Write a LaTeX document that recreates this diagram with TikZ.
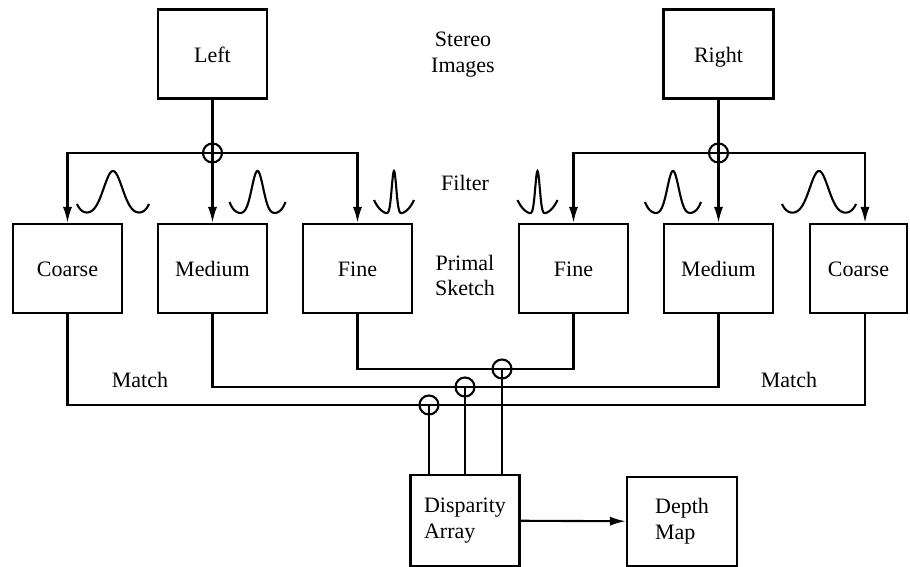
\documentclass[tikz,border=0pt]{standalone}
\usepackage{fontspec}
\setmainfont{Liberation Serif}
\usetikzlibrary{arrows.meta}
\tikzset{
  box/.style={draw,line width=1.15pt,minimum width=54.5pt,minimum height=44.5pt,inner sep=0pt},
  tag/.style={text height=10pt,text depth=1.8pt},
  junc/.style={draw,circle,line width=1.05pt,minimum size=9.5pt,inner sep=0pt},
  wire/.style={line width=1.05pt},
  feed/.style={wire,-{Latex[length=8pt,width=4.6pt]}},
}

\begin{document}
\begin{tikzpicture}[x=0.5pt,y=-0.5pt,every node/.style={font=\fontsize{11}{12.8}\selectfont}]
  \useasboundingbox (0,0) rectangle (910,567);
  % stereo images
  \node[box,tag] (left) at (212.5,54) {Left};
  \node[box,tag,minimum width=55pt] (right) at (718.5,54) {Right};
  % primal sketch
  \node[box,tag] (coarseL) at (67.5,268.5) {Coarse};
  \node[box,tag] (medL) at (212.5,268.5) {Medium};
  \node[box,tag] (fineL) at (357.5,268.5) {Fine};
  \node[box,tag] (fineR) at (573.5,268.5) {Fine};
  \node[box,tag] (medR) at (718.5,268.5) {Medium};
  \node[box,tag,minimum width=48.5pt] (coarseR) at (858.5,268.5) {Coarse};
  % output
  \node[box,align=left,minimum height=45.5pt] (disp) at (465,520.5) {Disparity\\Array};
  \node[box,align=left,minimum width=55pt] (depth) at (682,521.5) {Depth\\Map};
  % row labels
  \node[align=center] (stereo) at (463,54.5) {Stereo\\Images};
  \node (filter) at (465,183) {Filter};
  \node[align=center] (primal) at (465,275.5) {Primal\\Sketch};
  \node (matchL) at (140,380) {Match};
  \node (matchR) at (789,380) {Match};
  % filter split
  \node[junc] (jl) at (212.5,153) {};
  \node[junc] (jr) at (718.5,153) {};
  \draw[feed] (left) -- (medL);
  \draw[feed] (jl.center) -| (coarseL.north);
  \draw[feed] (jl.center) -| (fineL.north);
  \draw[feed] (right) -- (medR);
  \draw[feed] (jr.center) -| (fineR.north);
  \draw[feed] (jr.center) -| ([xshift=3.25pt]coarseR.north);
  % filter shapes
  \foreach \cx/\w/\s/\q/\p in {113/36/13/10/8, 257.5/28/8/12/6, 394/20/3.2/14/3,
                               537.5/20/3.2/14/3, 673/28/8/12/6, 819/37/13/10/8}
    \draw[wire] plot[domain=-\w:\w,samples=101,smooth]
      ({\cx+\x},{214-43*exp(-(\x*\x)/(\s*\s))-\q*pow(abs(\x)/\w,\p)});
  % matching
  \node[junc] (t1) at (429,405) {};
  \node[junc] (t2) at (465,387) {};
  \node[junc] (t3) at (502,369) {};
  \draw[wire] (coarseL.south) |- (t1.center) -| ([xshift=3.25pt]coarseR.south);
  \draw[wire] (medL.south) |- (t2.center) -| (medR.south);
  \draw[wire] (fineL.south) |- (t3.center) -| (fineR.south);
  \draw[wire] (disp.north -| t1) -- (t1.center);
  \draw[wire] (disp.north -| t2) -- (t2.center);
  \draw[wire] (disp.north -| t3) -- (t3.center);
  \draw[feed] (disp) -- (depth);
\end{tikzpicture}
\end{document}
